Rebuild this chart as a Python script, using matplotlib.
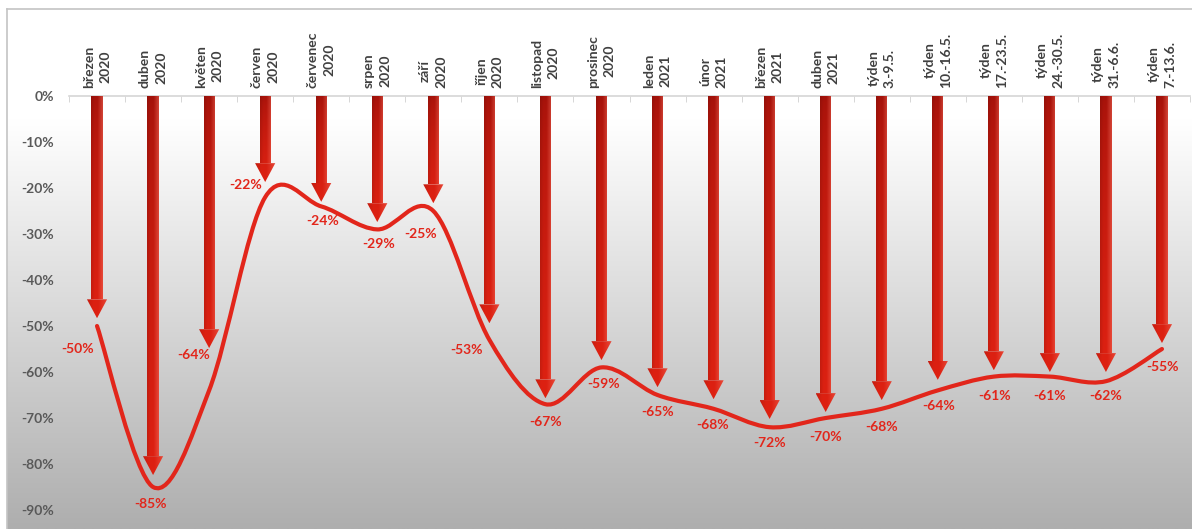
import numpy as np
import matplotlib
matplotlib.use("Agg")
import matplotlib.pyplot as plt
from matplotlib.patches import Polygon, PathPatch
from matplotlib.path import Path

# data
categories = ["březen\n2020", "duben\n2020", "květen\n2020", "červen\n2020",
              "červenec\n2020", "srpen\n2020", "září\n2020", "říjen\n2020",
              "listopad\n2020", "prosinec\n2020", "leden\n2021", "únor\n2021",
              "březen\n2021", "duben\n2021", "týden\n3.-9.5.", "týden\n10.-16.5.",
              "týden\n17.-23.5.", "týden\n24.-30.5.", "týden\n31.-6.6.", "týden\n7.-13.6."]
values = [-50, -85, -64, -22, -24, -29, -25, -53, -67, -59,
          -65, -68, -72, -70, -68, -64, -61, -61, -62, -55]
# where each arrow tip ends (arrows are drawn separately from the line)
arrow_ends = [-48.3, -82.4, -54.8, -18.7, -23.0, -27.4, -23.3, -49.4, -65.7, -57.4,
              -63.3, -65.9, -70.2, -68.7, -66.1, -61.7, -59.6, -60.0, -60.0, -53.7]
y_ticks = [0, -10, -20, -30, -40, -50, -60, -70, -80, -90]

# label offsets in pixels (dx, dy), dy up
lbl_off = [(-19, -23), (-3, -17), (-16, 35), (-20, 12), (1, -15), (1, -15), (-13, -23),
           (-23, -10), (0, -18), (2, -17), (0, -17), (-1, -16), (0, -16), (0, -19),
           (0, -18), (1, -16), (1, -19), (0, -19), (0, -15), (1, -18)]

RED = "#e2261b"
FONT = "Lato"

fig = plt.figure(figsize=(11.92, 5.29), dpi=100)
W, H = 1192, 529

# background panel with vertical gradient
bx0 = 7 / W
by1 = 1 - 9 / H
bg = fig.add_axes([bx0, 0, 1 - bx0, by1])
ypix = np.linspace(9, H, 300)
v = 255 - np.clip(ypix - 120, 0, None) * (255 - 174) / (H - 120)
grad = np.repeat((v / 255.0)[:, None], 2, axis=1)
bg.imshow(np.dstack([grad, grad, grad]), aspect="auto", extent=[0, 1, 0, 1],
          origin="upper", interpolation="bilinear")
bg.set_xticks([])
bg.set_yticks([])
for s in ["bottom", "right"]:
    bg.spines[s].set_visible(False)
for s in ["top", "left"]:
    bg.spines[s].set_color("#c4c4c4")
    bg.spines[s].set_linewidth(1.2)

ax = fig.add_axes([69 / W, 1 - 510 / H, (1190 - 69) / W, (510 - 96) / H])
ax.patch.set_alpha(0)

x = np.arange(len(values))

# smoothed line like excel (catmull-rom as cubic bezier)
pts = list(zip(x, values))
verts = [pts[0]]
codes = [Path.MOVETO]
for i in range(len(pts) - 1):
    p0 = np.array(pts[max(i - 1, 0)], float)
    p1 = np.array(pts[i], float)
    p2 = np.array(pts[i + 1], float)
    p3 = np.array(pts[min(i + 2, len(pts) - 1)], float)
    c1 = p1 + (p2 - p0) / 6
    c2 = p2 - (p3 - p1) / 6
    verts += [tuple(c1), tuple(c2), tuple(p2)]
    codes += [Path.CURVE4] * 3
ax.add_patch(PathPatch(Path(verts, codes), facecolor="none", edgecolor=RED,
                       lw=3, capstyle="round", joinstyle="round", zorder=3))

dark = np.array([0.64, 0.07, 0.04])
bright = np.array([0.87, 0.13, 0.07])
light = np.array([0.96, 0.45, 0.38])


def grad_fill(verts, t0, t1):
    poly = Polygon(verts, closed=True, facecolor="none", edgecolor="none")
    ax.add_patch(poly)
    xs = [p[0] for p in verts]
    ys = [p[1] for p in verts]
    ny, nx = 60, 24
    t = np.linspace(t0, t1, ny)[:, None, None]
    s = np.linspace(0, 1, nx)[None, :, None]
    base = dark + (bright - dark) * np.clip(t, 0, 1) ** 0.6
    base = base * (0.9 + 0.1 * np.clip(s / 0.3, 0, 1))
    mix = np.clip((s - 0.55) / 0.45, 0, 1) * 0.5
    img = base * (1 - mix) + light * mix
    im = ax.imshow(img, extent=(min(xs), max(xs), min(ys), max(ys)), origin="upper",
                   aspect="auto", interpolation="bilinear", zorder=4)
    im.set_clip_path(poly)


shaft_w = 0.1
head_w = 0.18
head_len = 4.1
for xi, end in zip(x, arrow_ends):
    neck = end + head_len
    frac = neck / end
    grad_fill([(xi - shaft_w, 0), (xi + shaft_w, 0), (xi + shaft_w, neck), (xi - shaft_w, neck)],
              0, frac)
    grad_fill([(xi - head_w, neck), (xi + head_w, neck), (xi, end)], frac, 1)

for xi, val, (dx, dy) in zip(x, values, lbl_off):
    ax.annotate(f"{val}%", (xi, val), xytext=(dx, dy), textcoords="offset pixels",
                ha="center", va="center", color=RED, fontsize=10, fontweight="bold",
                family=FONT, zorder=6)

ax.set_xlim(-0.5, len(values) - 0.5)
ax.set_ylim(-90, 0)

ax.xaxis.tick_top()
ax.set_xticks(x)
ax.set_xticklabels(categories, rotation=90, ha="center", va="bottom",
                   fontsize=10, fontweight="bold", family=FONT, color="#404040",
                   linespacing=1.45)
ax.set_xticks(np.arange(-0.5, len(values), 1), minor=True)
ax.tick_params(axis="x", which="major", length=0, pad=6)
ax.tick_params(axis="x", which="minor", direction="in", length=4, color="#d0d0d0",
               top=True, bottom=False)

ax.set_yticks(y_ticks)
ax.set_yticklabels([f"{t}%" for t in y_ticks], fontsize=10, fontweight="bold",
                   family=FONT, color="#595959")
ax.tick_params(axis="y", length=0, pad=11)

for s in ["left", "right", "bottom"]:
    ax.spines[s].set_visible(False)
ax.spines["top"].set_color("#d6d6d6")
ax.spines["top"].set_linewidth(1.2)

fig.savefig("out.png", dpi=100)
